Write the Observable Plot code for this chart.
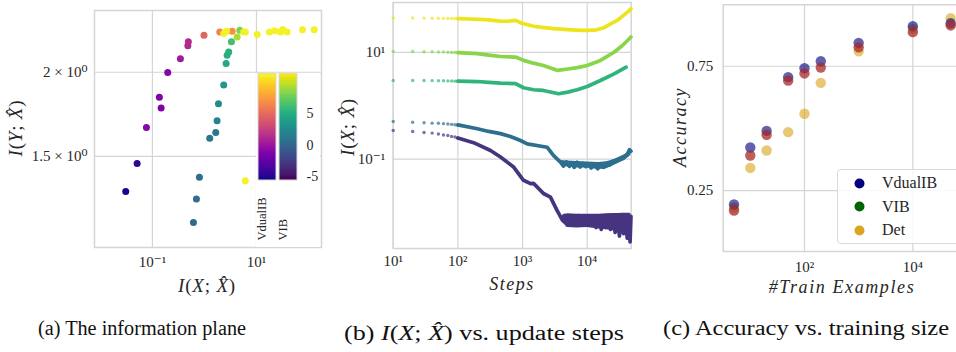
<!DOCTYPE html>
<html>
<head>
<meta charset="utf-8">
<script src="https://cdn.jsdelivr.net/npm/d3@7"></script>
<script src="https://cdn.jsdelivr.net/npm/@observablehq/plot@0.6"></script>
<style>
html,body{margin:0;padding:0;background:#fff;}
#fig{position:relative;width:956px;height:352px;overflow:hidden;font-family:"Liberation Serif","Tinos","DejaVu Serif",serif;color:#262626;}
.panel{position:absolute;top:0;}
.panel svg{max-width:none;display:block;}
#overlay{position:absolute;left:0;top:0;}
#leg{position:absolute;left:837px;top:169px;width:140px;height:73px;border:1px solid #dadada;border-radius:4px;background:rgba(255,255,255,0.85);}
#leg .item{position:absolute;left:0;height:22px;display:flex;align-items:center;font-size:16px;color:#262626;}
#leg .item svg{margin-left:16px;margin-right:17px;}
</style>
</head>
<body>
<div id="fig">
  <div id="pa" class="panel" style="left:0px;width:330px"></div>
  <div id="pcb" class="panel" style="left:256px;top:73px;width:64px"></div>
  <div id="pb" class="panel" style="left:330px;width:310px"></div>
  <div id="pc" class="panel" style="left:640px;width:330px"></div>
  <div id="leg"></div>
  <svg id="overlay" width="956" height="352"></svg>
</div>
<script>
// ================= Panel (a): information plane =================
const vdualibIX   = [0.0307, 0.0508, 0.0767, 0.147, 0.136, 0.197, 0.345, 0.48, 0.49, 0.98, 1.97, 3.41, 2.35, 2.65, 5.7, 6.1, 10.3, 17.8, 22.5, 28.9, 32.1, 38.9, 76.7, 129, 6.1];
const vdualibIY   = [1.331, 1.464, 1.656, 1.770, 1.836, 1.998, 2.095, 2.19, 2.22, 2.27, 2.296, 2.30, 2.284, 2.301, 2.296, 2.296, 2.276, 2.296, 2.305, 2.296, 2.315, 2.296, 2.312, 2.312, 1.381];
const vdualibBeta = [-5.4, -4.8, -0.9, -1.4, -1.2, -1.05, 0.15, 1.1, 1.2, 4.6, 6.3, 6.9, 11.2, 11.2, 11.2, 11.2, 11.2, 11.2, 11.2, 11.2, 11.2, 11.2, 11.2, 11.2, 11.2];
const vibIX   = [0.614, 0.701, 0.801, 1.264, 1.65, 1.75, 1.86, 2.35, 2.61, 2.73, 2.93, 3.30, 4.25, 4.78];
const vibIY   = [1.197, 1.297, 1.397, 1.597, 1.628, 1.695, 1.796, 1.915, 2.061, 2.120, 2.144, 2.219, 2.257, 2.309];
const vibBeta = [0.2, 0.3, 0.4, 1.2, 1.2, 1.9, 2.6, 3.4, 4.6, 5.1, 5.2, 6.3, 9.4, 8.1];
const betaDomain = [-5.7, 11.5];
const betaTicks = [5, 0, -5];
const colorbarNames = ["VdualIB", "VIB"];
const aXTicks = [0.1, 10];
const aXTickLabels = ["10\u207B\u00B9", "10\u00B9"];
const aYTicks = [1.5, 2];
const aYTickLabels = ["1.5 \u00D7 10\u2070", "2 \u00D7 10\u2070"];

// ================= Panel (b): I(X;X^) vs steps =================
const bColors = ["#ece51b", "#88d548", "#2fb47c", "#2c6f8e", "#463480"];
const earlySteps = [10, 20, 30, 40, 50, 60, 70, 80, 90, 100];
const early1 = [44.5, 44.3, 44.1, 43.9, 43.8, 43.6, 43.5, 43.4, 43.2, 43.0];
const early2 = [10.4, 10.4, 10.3, 10.3, 10.2, 10.2, 10.1, 10.0, 10.0, 9.9];
const early3 = [2.98, 2.98, 2.97, 2.96, 2.95, 2.94, 2.93, 2.92, 2.90, 2.89];
const early4 = [0.507, 0.492, 0.480, 0.472, 0.470, 0.462, 0.454, 0.447, 0.440, 0.437];
const early5 = [0.344, 0.330, 0.316, 0.307, 0.295, 0.283, 0.276, 0.266, 0.259, 0.248];
const steps1 = [100, 200, 300, 456, 600, 780, 1000, 1500, 2000, 3000, 5000, 8000, 10000, 14000, 18000, 23000, 30000, 36000, 42000, 47500];
const vals1  = [43, 42, 41, 38.8, 38.5, 40, 35, 31, 29.5, 28, 26.8, 26, 26, 26.6, 29, 34.5, 41, 49, 57, 66];
const steps2 = [100, 200, 300, 456, 780, 1035, 1480, 2100, 3500, 5000, 7000, 10000, 16000, 26000, 35000, 42000, 47500];
const vals2  = [9.9, 9.5, 8.9, 8.4, 8.2, 7.1, 6.3, 5.7, 4.6, 4.9, 5.2, 5.7, 7.1, 10.1, 13.5, 16.8, 19.5];
const steps3 = [100, 200, 300, 456, 780, 1035, 1480, 2100, 3600, 5000, 7000, 10000, 16000, 26000, 40000];
const vals3  = [2.89, 2.85, 2.75, 2.66, 2.6, 2.18, 2.0, 1.94, 1.68, 1.8, 2.0, 2.3, 2.98, 3.98, 5.3];
const steps4 = [100, 200, 300, 456, 650, 930, 1180, 2400, 3000, 3860, 4300, 4800, 5300, 5800, 6300, 7000, 7800, 8600, 9500, 10500, 11500, 13000, 14500, 16000, 18000, 20000, 22500, 25000, 28000, 31000, 35000, 39000, 42000, 45000, 47500];
const vals4  = [0.437, 0.37, 0.33, 0.30, 0.266, 0.223, 0.193, 0.167, 0.117, 0.088, 0.074, 0.088, 0.073, 0.084, 0.07, 0.087, 0.071, 0.083, 0.072, 0.08, 0.068, 0.078, 0.066, 0.075, 0.07, 0.083, 0.078, 0.092, 0.09, 0.1, 0.105, 0.115, 0.125, 0.15, 0.14];
const steps5 = [100, 175, 320, 456, 720, 1035, 1330, 1480, 2110, 2700, 3400, 4150, 4500, 4900, 5300, 5700, 6200, 6700, 7300, 8000, 8800, 9600, 10500, 11500, 12500, 13700, 15000, 16500, 18000, 19500, 21000, 23000, 25000, 27000, 29000, 31500, 34000, 36500, 39000, 41500, 44000, 46000, 47500];
const vals5  = [0.248, 0.203, 0.145, 0.109, 0.072, 0.04, 0.0345, 0.035, 0.0226, 0.0193, 0.011, 0.0071, 0.0088, 0.0058, 0.0082, 0.006, 0.0086, 0.0062, 0.0087, 0.0058, 0.0083, 0.0062, 0.0086, 0.0057, 0.008, 0.0052, 0.0084, 0.0048, 0.0086, 0.0052, 0.0088, 0.0048, 0.0086, 0.0042, 0.0088, 0.0036, 0.0086, 0.004, 0.0088, 0.0033, 0.0086, 0.0028, 0.0084];
// spread of the noisy tail (low / high envelope)
const bandSteps4 = [3860, 5000, 7000, 10000, 15000, 20000, 25000, 30000, 38000, 45000, 47500];
const bandLo4    = [0.082, 0.07, 0.068, 0.068, 0.064, 0.066, 0.074, 0.083, 0.094, 0.11, 0.118];
const bandHi4    = [0.094, 0.092, 0.09, 0.088, 0.086, 0.089, 0.096, 0.106, 0.12, 0.142, 0.155];
const bandSteps5 = [4150, 5000, 7000, 10000, 15000, 20000, 25000, 30000, 35000, 40000, 45000, 47500];
const bandLo5    = [0.0064, 0.0052, 0.0051, 0.0052, 0.0049, 0.0047, 0.0045, 0.0041, 0.004, 0.0036, 0.0033, 0.0033];
const bandHi5    = [0.0088, 0.0094, 0.0092, 0.0092, 0.0092, 0.0094, 0.0095, 0.0095, 0.0096, 0.0096, 0.0096, 0.0094];
const bXTicks = [10, 100, 1000, 10000];
const bXTickLabels = ["10\u00B9", "10\u00B2", "10\u00B3", "10\u2074"];
const bYTicks = [0.1, 10];
const bYTickLabels = ["10\u207B\u00B9", "10\u00B9"];

// ================= Panel (c): accuracy vs training size =================
const trainSizes = [5, 10, 20, 50, 100, 200, 1000, 10000, 50000];
const accVdualIB = [0.194, 0.423, 0.490, 0.706, 0.742, 0.770, 0.844, 0.911, 0.923];
const accVIB     = [0.170, 0.391, 0.474, 0.692, 0.721, 0.745, 0.826, 0.887, 0.914];
const accDet     = [0.181, 0.341, 0.411, 0.485, 0.559, 0.683, 0.810, 0.900, 0.943];
const methodNames = ["VdualIB", "VIB", "Det"];
const legendColors = ["#000080", "#006400", "#daa520"];
const cXTicks = [100, 10000];
const cXTickLabels = ["10\u00B2", "10\u2074"];
const cYTicks = [0.25, 0.75];
const cYTickLabels = ["0.25", "0.75"];

// ================= drawing =================
const FONT = '"Liberation Serif", "Tinos", "DejaVu Serif", serif';
const GRID = "#d5d5d5";
const baseStyle = {fontFamily: FONT, fontSize: "15px", color: "#262626", background: "transparent", maxWidth: "none", overflow: "visible"};
const lab = (ticks, labels) => d => labels[ticks.indexOf(d)];
const tnorm = b => (b - betaDomain[0]) / (betaDomain[1] - betaDomain[0]);

// Panel a
const vibRows = vibIX.map((x, i) => ({x, y: vibIY[i], c: d3.interpolateViridis(tnorm(vibBeta[i]))}));
const vdualRows = vdualibIX.map((x, i) => ({x, y: vdualibIY[i], c: d3.interpolatePlasma(tnorm(vdualibBeta[i]))}));
const plotA = Plot.plot({
  width: 330, height: 300, marginLeft: 94, marginRight: 9, marginTop: 10, marginBottom: 53,
  style: baseStyle,
  x: {type: "log", domain: [0.0077, 178]},
  y: {type: "log", domain: [1.099, 2.47]},
  marks: [
    Plot.gridX(aXTicks, {stroke: GRID, strokeOpacity: 1, strokeWidth: 1.2}),
    Plot.gridY(aYTicks, {stroke: GRID, strokeOpacity: 1, strokeWidth: 1.2}),
    Plot.frame({stroke: GRID, strokeWidth: 1.5}),
    Plot.axisX(aXTicks, {tickSize: 0, tickPadding: 9, tickFormat: lab(aXTicks, aXTickLabels), label: null}),
    Plot.axisY(aYTicks, {tickSize: 0, tickPadding: 7, tickFormat: lab(aYTicks, aYTickLabels), label: null}),
    Plot.dot(vibRows, {x: "x", y: "y", r: 3.5, fill: "c"}),
    Plot.dot(vdualRows, {x: "x", y: "y", r: 3.5, fill: "c"})
  ]
});
document.getElementById("pa").append(plotA);

// colorbars (legend)
const nLev = 120;
const lvStep = (betaDomain[1] - betaDomain[0]) / nLev;
const cbRows = [];
colorbarNames.forEach((name, j) => {
  for (let i = 0; i < nLev; i++) {
    const lo = betaDomain[0] + i * lvStep;
    const t = (i + 0.5) / nLev;
    cbRows.push({name, lo, hi: Math.min(lo + lvStep * 1.5, betaDomain[1]), c: j === 0 ? d3.interpolatePlasma(t) : d3.interpolateViridis(t)});
  }
});
const plotCB = Plot.plot({
  width: 64, height: 174, marginLeft: 2, marginRight: 22, marginTop: 0, marginBottom: 67,
  style: {...baseStyle, background: "white", fontSize: "14px", overflow: "hidden"},
  x: {type: "band", domain: colorbarNames, paddingInner: 0.14, paddingOuter: 0},
  y: {domain: betaDomain},
  marks: [
    Plot.barY(cbRows, {x: "name", y1: "lo", y2: "hi", fill: "c", shapeRendering: "crispEdges"}),
    Plot.barY(colorbarNames, {x: d => d, y1: betaDomain[0], y2: betaDomain[1], fill: "none", stroke: "#d8d8d8", strokeWidth: 1}),
    Plot.axisY(betaTicks, {anchor: "right", tickSize: 0, tickPadding: 8, tickFormat: d => String(d), label: null}),
    Plot.axisX([], {label: null}),
    Plot.text(colorbarNames, {x: d => d, text: d => d, frameAnchor: "bottom", dy: 60, dx: -2, rotate: -90, textAnchor: "start", fontSize: 12.5})
  ]
});
document.getElementById("pcb").append(plotCB);

// Panel b
const bEarly = [early1, early2, early3, early4, early5];
const bSteps = [steps1, steps2, steps3, steps4, steps5];
const bVals = [vals1, vals2, vals3, vals4, vals5];
const lineRows = bSteps.flatMap((ss, k) => ss.map((s, i) => ({s, v: bVals[k][i], k, c: bColors[k]})));
const dotRows = bEarly.flatMap((vv, k) => vv.map((v, i) => ({s: earlySteps[i], v, k, c: bColors[k]})));
const bandRows = [
  ...bandSteps4.map((s, i) => ({s, lo: bandLo4[i], hi: bandHi4[i], k: 3, c: bColors[3]})),
  ...bandSteps5.map((s, i) => ({s, lo: bandLo5[i], hi: bandHi5[i], k: 4, c: bColors[4]}))
];
const plotB = Plot.plot({
  width: 310, height: 300, marginLeft: 62.7, marginRight: 9.3, marginTop: 2, marginBottom: 52,
  style: baseStyle,
  x: {type: "log", domain: [10, 47900]},
  y: {type: "log", domain: [0.0021, 86.6]},
  marks: [
    Plot.gridX(bXTicks, {stroke: GRID, strokeOpacity: 1, strokeWidth: 1.2}),
    Plot.gridY(bYTicks, {stroke: GRID, strokeOpacity: 1, strokeWidth: 1.2}),
    Plot.frame({stroke: GRID, strokeWidth: 1.5}),
    Plot.axisX(bXTicks, {tickSize: 0, tickPadding: 7, tickFormat: lab(bXTicks, bXTickLabels), label: null}),
    Plot.axisY(bYTicks, {tickSize: 0, tickPadding: 8, tickFormat: lab(bYTicks, bYTickLabels), label: null}),
    Plot.areaY(bandRows, {x: "s", y1: "lo", y2: "hi", z: "k", fill: "c", fillOpacity: 1}),
    Plot.line(lineRows, {x: "s", y: "v", z: "k", stroke: "c", strokeWidth: 3.7, strokeLinejoin: "round"}),
    Plot.dot(dotRows, {x: "s", y: "v", r: 1.7, fill: "c", fillOpacity: 0.7})
  ]
});
document.getElementById("pb").append(plotB);

// Panel c
const accRows = [];
const seriesOrder = [["Det", accDet, "#daa520", 0.62], ["VdualIB", accVdualIB, "#000080", 0.62], ["VIB", accVIB, "#a52a2a", 0.75]];
seriesOrder.forEach(([name, vals, col, op]) => trainSizes.forEach((n, i) => accRows.push({n, a: vals[i], name, col, op})));
const plotC = Plot.plot({
  width: 330, height: 300, marginLeft: 82.7, marginRight: 5, marginTop: 4.3, marginBottom: 49,
  style: baseStyle,
  x: {type: "log", domain: [3.16, 93800]},
  y: {domain: [0.005, 0.997]},
  marks: [
    Plot.gridX(cXTicks, {stroke: GRID, strokeOpacity: 1, strokeWidth: 1.2}),
    Plot.gridY(cYTicks, {stroke: GRID, strokeOpacity: 1, strokeWidth: 1.2}),
    Plot.frame({stroke: GRID, strokeWidth: 1.5}),
    Plot.axisX(cXTicks, {tickSize: 0, tickPadding: 10, tickFormat: lab(cXTicks, cXTickLabels), label: null}),
    Plot.axisY(cYTicks, {tickSize: 0, tickPadding: 10, tickFormat: lab(cYTicks, cYTickLabels), label: null}),
    Plot.dot(accRows, {x: "n", y: "a", r: 5.2, fill: "col", fillOpacity: "op"})
  ]
});
document.getElementById("pc").append(plotC);

// legend for panel c
const leg = d3.select("#leg");
methodNames.forEach((name, i) => {
  const it = leg.append("div").attr("class", "item").style("top", (2 + i * 23.7) + "px");
  const s = it.append("svg").attr("width", 11).attr("height", 11);
  s.append("circle").attr("cx", 5.5).attr("cy", 5.5).attr("r", 5).attr("fill", legendColors[i]);
  it.append("span").text(name);
});

// axis titles & captions
const ov = d3.select("#overlay");
function mathText(x, y, parts, opts = {}) {
  const t = ov.append("text").attr("x", x).attr("y", y)
    .attr("text-anchor", "middle").attr("dominant-baseline", "central")
    .style("font-family", FONT).attr("font-size", opts.size || 18).attr("fill", opts.fill || "#262626")
    .attr("letter-spacing", opts.ls || 0);
  if (opts.len) t.attr("textLength", opts.len).attr("lengthAdjust", "spacingAndGlyphs");
  if (opts.rotate) t.attr("transform", `rotate(-90 ${x} ${y})`);
  parts.forEach(([s, it]) => t.append("tspan").attr("font-style", it ? "italic" : "normal").text(s));
  return t;
}
const IYX = [["I", 1], ["(", 0], ["Y", 1], ["; ", 0], ["X\u0302", 1], [")", 0]];
const IXX = [["I", 1], ["(", 0], ["X", 1], ["; ", 0], ["X\u0302", 1], [")", 0]];
mathText(15, 128, IYX, {rotate: true, size: 19, ls: 0.8});
mathText(207, 285, IXX, {size: 19, ls: 0.8});
mathText(347, 127, IXX, {rotate: true, size: 19, ls: 0.8});
mathText(512, 284, [["Steps", 1]], {size: 18, ls: 1.5});
mathText(680, 127, [["Accuracy", 1]], {rotate: true, size: 18, ls: 1.5});
mathText(842, 287, [["#Train Examples", 1]], {size: 18, ls: 1.6});

mathText(142, 328, [["(a) The information plane", 0]], {size: 20, len: 208, fill: "#111"});
mathText(484, 333, [["(b) ", 0], ["I", 1], ["(", 0], ["X", 1], ["; ", 0], ["X\u0302", 1], [")", 0], [" vs. update steps", 0]], {size: 20, len: 280, fill: "#111"});
mathText(806, 328, [["(c) Accuracy vs. training size", 0]], {size: 20, len: 286, fill: "#111"});
</script>
</body>
</html>
